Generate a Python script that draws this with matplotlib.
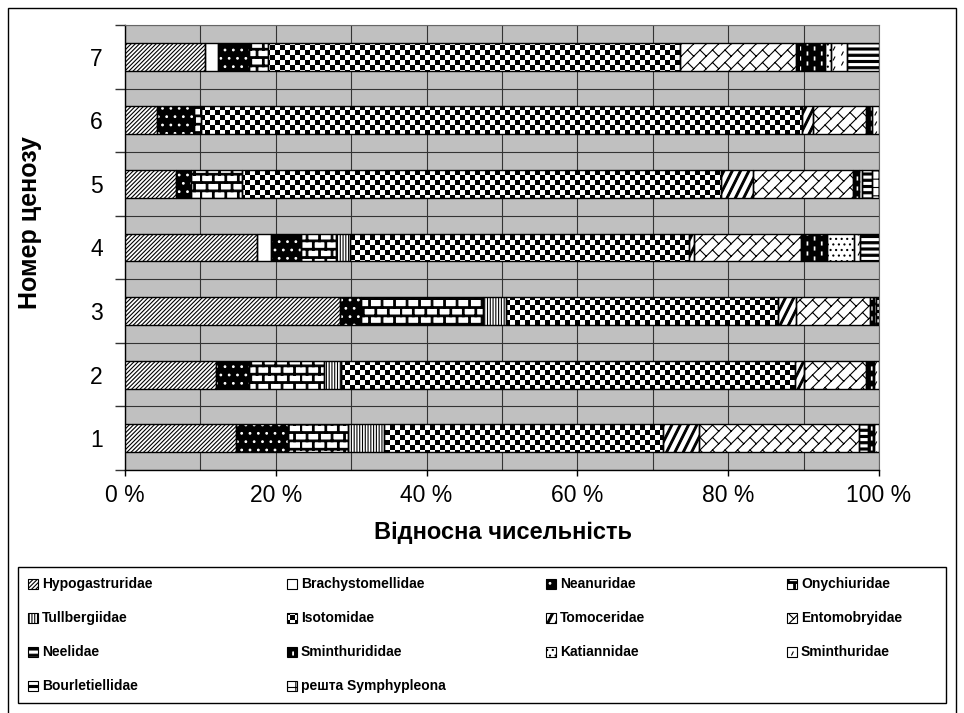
import warnings
import numpy as np
import matplotlib
matplotlib.use("Agg")
import matplotlib.pyplot as plt
import matplotlib.hatch as mhatch
from matplotlib.path import Path
from matplotlib.patches import Rectangle

warnings.filterwarnings("ignore")

# ---- data: relative abundance (%) of Collembola families per cenosis 1..7
cenoses = [1, 2, 3, 4, 5, 6, 7]
families = ["Hypogastruridae", "Brachystomellidae", "Neanuridae", "Onychiuridae",
            "Tullbergiidae", "Isotomidae", "Tomoceridae", "Entomobryidae",
            "Neelidae", "Sminthurididae", "Katiannidae", "Sminthuridae",
            "Bourletiellidae", "решта Symphypleona"]

hypogastruridae = [14.7, 12.1, 28.5, 17.5, 6.8, 4.2, 10.6]
brachystomellidae = [0.0, 0.0, 0.0, 1.9, 0.0, 0.0, 1.7]
neanuridae = [6.9, 4.4, 2.8, 3.9, 2.0, 5.0, 4.2]
onychiuridae = [8.0, 9.9, 16.2, 4.7, 6.7, 0.9, 2.4]
tullbergiidae = [4.7, 2.2, 3.0, 1.8, 0.0, 0.0, 0.0]
isotomidae = [37.0, 60.3, 36.1, 45.0, 63.5, 79.7, 54.7]
tomoceridae = [4.8, 1.1, 2.4, 0.6, 4.3, 1.4, 0.0]
entomobryidae = [21.2, 8.3, 9.8, 14.2, 13.3, 7.1, 15.4]
neelidae = [1.3, 0.0, 0.0, 0.0, 0.0, 0.0, 0.0]
sminthurididae = [0.7, 1.0, 0.5, 3.5, 0.7, 0.8, 3.9]
katiannidae = [0.0, 0.0, 0.0, 3.6, 0.0, 0.0, 0.7]
sminthuridae = [0.7, 0.7, 0.3, 0.8, 0.5, 0.9, 2.2]
bourletiellidae = [0.0, 0.0, 0.4, 2.5, 1.3, 0.0, 4.2]
symphypleona_rest = [0.0, 0.0, 0.0, 0.0, 0.9, 0.0, 0.0]

series = [hypogastruridae, brachystomellidae, neanuridae, onychiuridae,
          tullbergiidae, isotomidae, tomoceridae, entomobryidae, neelidae,
          sminthurididae, katiannidae, sminthuridae, bourletiellidae,
          symphypleona_rest]

xticks = [0, 20, 40, 60, 80, 100]


# ---- custom fill patterns (Excel-like brick, checker, ...)
MOVE, LINE, CLOSE = Path.MOVETO, Path.LINETO, Path.CLOSEPOLY
STROKE = 0.8 / 72.0  # hatch stroke width in tile units (inch)


def rect_path(rects):
    v, c = [], []
    for x0, y0, w, h in rects:
        v += [(x0, y0), (x0 + w, y0), (x0 + w, y0 + h), (x0, y0 + h), (x0, y0)]
        c += [MOVE, LINE, LINE, LINE, CLOSE]
    return v, c


def checker():
    n = 20
    cell = 1.0 / n
    side = cell - STROKE
    return rect_path([(i * cell + STROKE / 2, j * cell + STROKE / 2, side, side)
                      for i in range(n) for j in range(n) if (i + j) % 2 == 0])


def brick():
    rows, cols, t = 12, 8, 0.016
    h, bw = 1.0 / rows, 1.0 / cols
    rects = []
    for r in range(rows):
        rects.append((-0.05, r * h, 1.1, t))
        for j in range(cols):
            rects.append(((j + 0.5 * (r % 2)) * bw, r * h, t, h))
    return rect_path(rects)


def wide_diag():
    n, w = 12, 0.02
    v, c = [], []
    for k in range(-14, 14):
        x0 = k / n
        v += [(x0 - 0.05, -0.1), (x0 + 0.55, 1.1), (x0 + 0.55 + w, 1.1),
              (x0 - 0.05 + w, -0.1), (x0, 0)]
        c += [MOVE, LINE, LINE, LINE, CLOSE]
    return v, c


def hstripes():
    n = 16
    return rect_path([(-0.05, k / n, 1.1, 0.02) for k in range(n)])


def vdashes():
    cols, rows = 14, 10
    return rect_path([(i / cols, j / rows + (i % 2) * 0.05, 0.006, 0.03)
                      for i in range(cols) for j in range(rows)])


def slashes():
    cols, rows = 12, 10
    v, c = [], []
    for i in range(cols):
        for j in range(rows):
            x, y = i / cols, j / rows + (i % 2) * 0.05
            v += [(x, y), (x + 0.015, y + 0.03)]
            c += [MOVE, LINE]
    return v, c


def diag_brick():
    n = 8
    d = 1.0 / n
    L = 1.0 / 8
    v, c = [], []
    for k in range(-n - 1, n + 2):
        cc = k * d
        v += [(cc - 1.2, -1.2), (cc + 1.2, 1.2)]
        c += [MOVE, LINE]
        t0 = (k % 2) * L / 2
        for m in range(-40, 41):
            t = t0 + m * L
            x, y = cc / 2 + t, -cc / 2 + t
            if -0.2 <= x <= 1.2 and -0.2 <= y <= 1.2:
                v += [(x, y), (x + d / 2, y - d / 2)]
                c += [MOVE, LINE]
    return v, c


class TilePattern(mhatch.HatchPatternBase):
    char = ""
    builder = None

    def __init__(self, hatch, density):
        if self.char and self.char in hatch:
            v, c = type(self).builder()
            self._v = np.asarray(v, float)
            self._c = np.asarray(c, Path.code_type)
            self.num_vertices = len(self._v)
        else:
            self.num_vertices = 0

    def set_vertices_and_codes(self, vertices, codes):
        vertices[:] = self._v
        codes[:] = self._c


for ch, fn in [("c", checker), ("b", brick), ("w", wide_diag), ("h", hstripes),
               ("v", vdashes), ("s", slashes), ("z", diag_brick)]:
    mhatch._hatch_types.append(type("P_" + ch, (TilePattern,),
                                    {"char": ch, "builder": staticmethod(fn)}))

plt.rcParams["hatch.linewidth"] = 0.8
plt.rcParams["font.family"] = ["Liberation Sans", "DejaVu Sans"]

faces = ["white", "white", "black", "white", "white", "white", "white", "white",
         "white", "black", "white", "white", "white", "white"]
inks = ["black", "black", "white", "black", "black", "black", "black", "black",
        "black", "white", "black", "black", "black", "black"]
hatches = ["////////", "", "..", "b", "||||||", "c", "w", "z", "h", "v", "...", "s", "h", "++"]

W, H = 964, 713
fig = plt.figure(figsize=(W / 100, H / 100), dpi=100)


def fx(x):
    return x / W


def fy(y):
    return 1 - y / H


ax = fig.add_axes([fx(125), fy(470), 754 / W, 445 / H])
ax.set_facecolor("#C0C0C0")

left = np.zeros(len(cenoses))
for vals, fc, ink, ht in zip(series, faces, inks, hatches):
    vals = np.asarray(vals)
    m = vals > 0
    y = np.asarray(cenoses)[m]
    ax.barh(y, vals[m], left=left[m], height=0.44, color=fc, edgecolor=ink,
            linewidth=0, hatch=ht, zorder=3)
    ax.barh(y, vals[m], left=left[m], height=0.44, fill=False,
            edgecolor="black", linewidth=1.0, zorder=4)
    left += vals

ax.set_xlim(0, 100)
ax.set_ylim(0.5, 7.5)
ax.set_xticks(xticks)
ax.set_xticklabels([f"{v} %" for v in xticks], fontsize=16.5)
ax.set_xticks(np.arange(0, 101, 10), minor=True)
ax.set_yticks(cenoses)
ax.set_yticklabels([str(c) for c in cenoses], fontsize=16.5)
ax.set_yticks(np.arange(0.5, 7.6, 1), minor=True)
ax.tick_params(axis="y", which="major", length=0, pad=16)
ax.tick_params(axis="y", which="minor", length=7, width=1, color="#333333")
ax.tick_params(axis="x", which="major", length=4, width=1, pad=6)
ax.tick_params(axis="x", which="minor", length=0)
ax.grid(True, which="both", axis="x", color="#333333", linewidth=0.8)
ax.grid(True, which="minor", axis="y", color="#333333", linewidth=0.8)
ax.set_axisbelow(True)
for s in ["top", "right"]:
    ax.spines[s].set_color("#666666")
    ax.spines[s].set_linewidth(0.8)
for s in ["left", "bottom"]:
    ax.spines[s].set_color("black")
    ax.spines[s].set_linewidth(1.0)

fig.text(fx(503), fy(533), "Відносна чисельність", ha="center", va="center",
         fontsize=17, fontweight="bold")
fig.text(fx(30), fy(223), "Номер ценозу", ha="center", va="center",
         rotation=90, fontsize=18, fontweight="bold")

# outer chart border and legend box
fig.add_artist(Rectangle((fx(8), fy(720)), fx(948), 712 / H, transform=fig.transFigure,
                         fill=False, edgecolor="black", linewidth=1.0))
fig.add_artist(Rectangle((fx(18), fy(703)), fx(928), 136 / H, transform=fig.transFigure,
                         fill=False, edgecolor="black", linewidth=1.0))

col_x = [28, 287, 546, 787]
row_y = [584, 618, 652, 686]
for i, name in enumerate(families):
    cx, cy = col_x[i % 4], row_y[i // 4]
    box = (fx(cx), fy(cy + 5))
    fig.add_artist(Rectangle(box, 10 / W, 10 / H, transform=fig.transFigure,
                             facecolor=faces[i], edgecolor=inks[i], linewidth=0,
                             hatch=hatches[i]))
    fig.add_artist(Rectangle(box, 10 / W, 10 / H, transform=fig.transFigure,
                             fill=False, edgecolor="black", linewidth=0.8))
    fig.text(fx(cx + 14), fy(cy), name, ha="left", va="center",
             fontsize=10, fontweight="bold")

fig.savefig("out.png", dpi=100)
